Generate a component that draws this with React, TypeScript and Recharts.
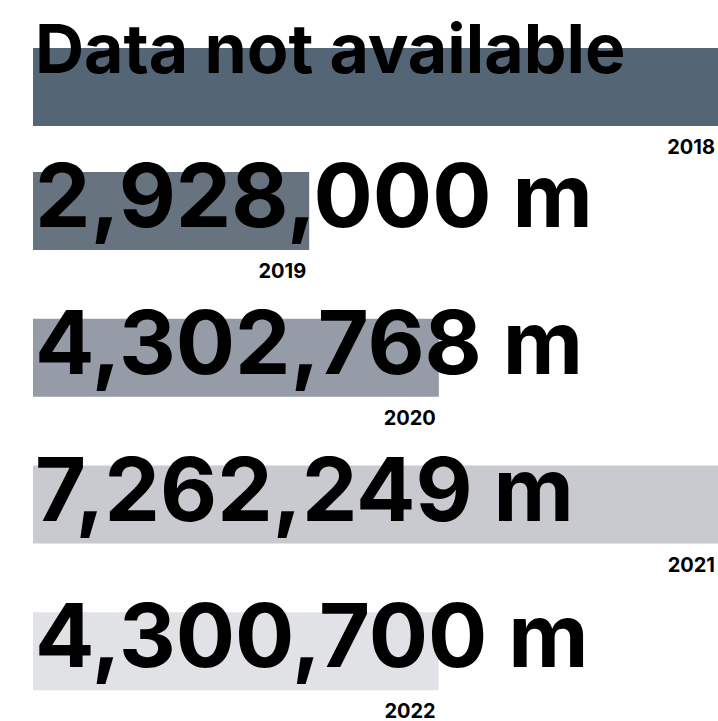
import React from 'react';
import { BarChart, Bar, XAxis, YAxis, Cell } from 'recharts';

// ---- data ----
const years: string[] = ['2018', '2019', '2020', '2021', '2022'];
const lengths: (number | null)[] = [null, 2928000, 4302768, 7262249, 4300700];
const missingText = 'Data not available';
const unit = 'm';

// ---- style ----
const colors = ['#546576', '#67737f', '#959ca7', '#c8cacf', '#e1e2e6'];
const FONT = 'Inter';

const maxLength = Math.max(...(lengths.filter((v) => v != null) as number[]));
const fmt = (v: number) => v.toLocaleString('en-US');

const rows = years.map((year, i) => {
  const v = lengths[i];
  return {
    year,
    value: v,
    bar: v == null ? maxLength : v,
    label: v == null ? missingText : `${fmt(v)} ${unit}`,
    missing: v == null,
    color: colors[i],
  };
});

const RowShape = (props: any) => {
  const { x, y, width, height, fill, payload } = props;
  const missing = payload.missing;
  return (
    <g>
      <rect x={x} y={y} width={width} height={height} fill={fill} />
      <text
        x={x + 2}
        y={y + (missing ? 25 : 55)}
        fontFamily={FONT}
        fontWeight={700}
        fontSize={missing ? 68 : 88}
        fill="#000"
      >
        {payload.label}
      </text>
      <text
        x={x + width - 3}
        y={y + height + 28}
        textAnchor="end"
        fontFamily={FONT}
        fontWeight={700}
        fontSize={20}
        fill="#000"
      >
        {payload.year}
      </text>
    </g>
  );
};

const Chart = ({ data, height, margin, barSize }: any) => (
  <BarChart
    layout="vertical"
    width={718}
    height={height}
    data={data}
    margin={margin}
    barCategoryGap={0}
  >
    <XAxis type="number" dataKey="bar" domain={[0, maxLength]} hide />
    <YAxis type="category" dataKey="year" hide />
    <Bar dataKey="bar" barSize={barSize} isAnimationActive={false} shape={RowShape}>
      {data.map((d: any) => (
        <Cell key={d.year} fill={d.color} />
      ))}
    </Bar>
  </BarChart>
);

export default function App() {
  return (
    <div
      style={{
        position: 'absolute',
        left: 0,
        top: 0,
        width: 718,
        height: 721,
        overflow: 'hidden',
        background: '#fff',
      }}
    >
      <div style={{ position: 'absolute', left: 0, top: 0 }}>
        <Chart
          data={rows.slice(0, 1)}
          height={180}
          margin={{ top: 13, right: 0, bottom: 20, left: 33 }}
          barSize={78}
        />
      </div>
      <div style={{ position: 'absolute', left: 0, top: 0 }}>
        <Chart
          data={rows.slice(1)}
          height={740}
          margin={{ top: 138, right: 0, bottom: 15, left: 33 }}
          barSize={78}
        />
      </div>
    </div>
  );
}
